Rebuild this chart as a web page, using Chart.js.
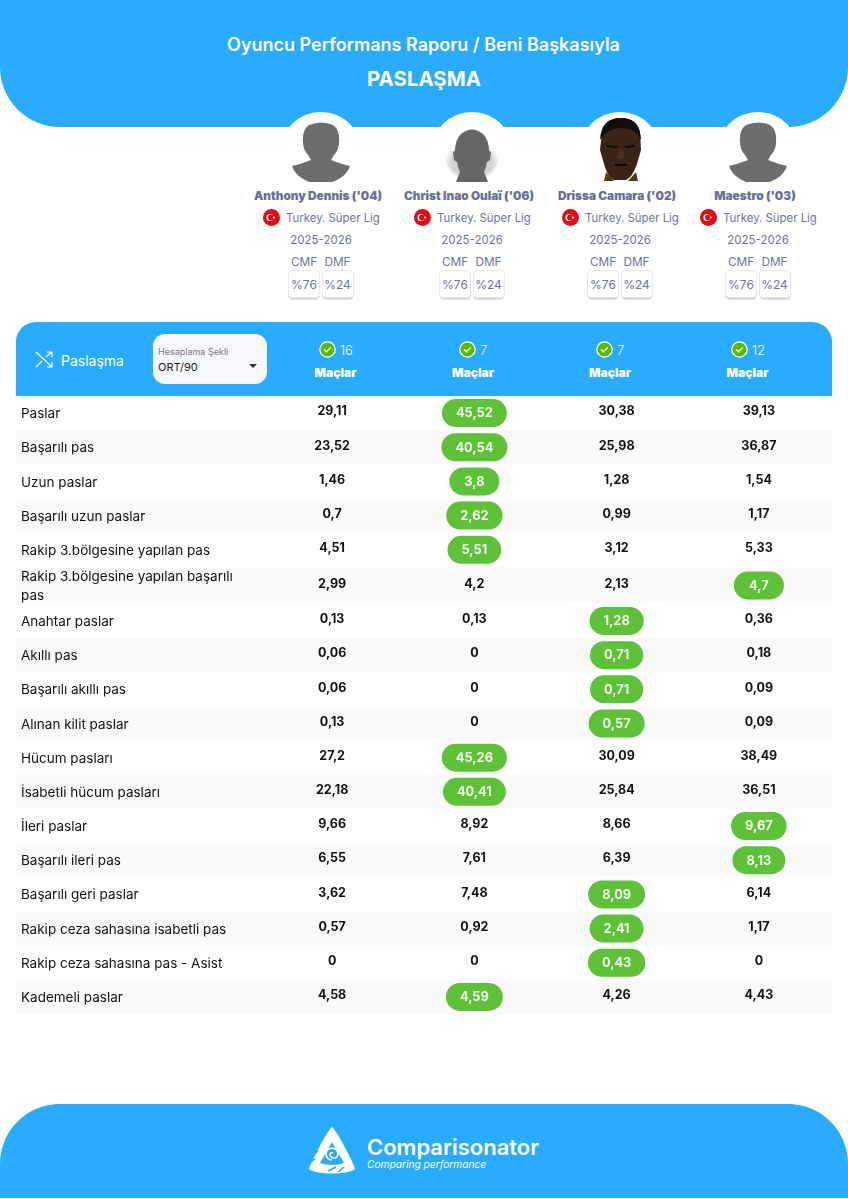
<!DOCTYPE html>
<html lang="tr">
<head>
<meta charset="utf-8">
<title>Paslaşma</title>
<script src="https://cdn.jsdelivr.net/npm/chart.js@4"></script>
<style>
  html, body { margin: 0; padding: 0; background: #fff; }
  body { position: relative; width: 848px; height: 1199px; overflow: hidden; font-family: 'Inter', sans-serif; }
  .abs { position: absolute; white-space: nowrap; }
  .ctr { transform: translate(-50%, -50%); }
  .mid { transform: translateY(-50%); }
  .top-panel { position: absolute; left: 0; top: 0; width: 848px; height: 127px; background: #29abff; border-radius: 0 0 60px 60px; }
  .foot-panel { position: absolute; left: 0; top: 1104px; width: 848px; height: 94px; background: #29abff; border-radius: 60px 60px 0 0; }
  .bubble { position: absolute; width: 82px; height: 82px; border-radius: 50%; background: #fff; top: 112px; transform: translateX(-50%); }
  .band { position: absolute; left: 16px; top: 322px; width: 816px; height: 74px; background: #29abff; border-radius: 20px 20px 0 0; }
  .select { position: absolute; left: 153px; top: 334px; width: 114px; height: 50px; background: #f7f8fc; border-radius: 12px; }
  .card { position: absolute; top: 270px; width: 32px; height: 30px; background: #fff; border: 1px solid #e8e8ee; border-bottom: 3px solid #dcdce2; border-radius: 5px; box-sizing: border-box; font-size: 12px; color: #6f7394; text-align: center; line-height: 28px; }
  #chart { position: absolute; left: 0; top: 396px; }
</style>
</head>
<body>
<div class="top-panel"></div>
<div class="foot-panel"></div>
<div class="band"></div>
<div class="select"></div>
<div class="abs ctr" style="left:423.5px;top:44px;color:#fff;font-size:18px;font-weight:600">Oyuncu Performans Raporu / Beni Başkasıyla</div>
<div class="abs ctr" style="left:424px;top:78px;color:#fff;font-size:20.4px;font-weight:700">PASLAŞMA</div>

<svg class="abs" style="left:35px;top:350px" width="19" height="19" viewBox="0 0 19 19" fill="none" stroke="#fff" stroke-width="1.2">
  <path d="M1 2 L17 17 M17 17 L17 12 M17 17 L12 17 M1 17 L7 11 M11 7 L17 2 M17 2 L12 2 M17 2 L17 7"/>
</svg>
<div class="abs mid" style="left:61px;top:360px;color:#fff;font-size:14px">Paslaşma</div>
<div class="abs mid" style="left:158px;top:351px;color:#777;font-size:9px">Hesaplama Şekli</div>
<div class="abs mid" style="left:158px;top:367px;color:#222;font-size:11px">ORT/90</div>
<svg class="abs" style="left:249px;top:364px" width="9" height="5"><path d="M0 0 L8 0 L4 4 Z" fill="#333"/></svg>

<canvas id="chart" width="848" height="618"></canvas>

<div class="abs" style="left:367px;top:1134px;color:#fff;font-size:22px;font-weight:600;line-height:26px">Comparisonator</div>
<div class="abs" style="left:367px;top:1157px;color:#fff;font-size:10.2px;font-style:italic;line-height:14px">Comparing performance</div>
<svg class="abs" style="left:308px;top:1126px" width="48" height="49" viewBox="0 0 48 49">
  <path d="M24 1 C28 3 46 38 47 43 C40 49 8 49 1 43 C2 38 20 3 24 1 Z" fill="#fff"/>
  <path d="M24 16 L36 37 Q24 41 12 37 Z" fill="#29abff"/>
  <path d="M24 34 A6 6 0 1 1 30 28 A4 4 0 1 1 22 28 A2 2 0 0 1 25 27" fill="none" stroke="#fff" stroke-width="1.6"/>
  <path d="M31 7 L37 14 M36 15 L41 17 M40 22 L46 26 M8 20 L13 16 M4 29 L10 25 M2 36 L7 33 M20 45 L28 41 M30 46 L36 41" stroke="#29abff" stroke-width="1.6"/>
</svg>

<script>
const playerNames = ["Anthony Dennis ('04)", "Christ Inao Oulaï ('06)", "Drissa Camara ('02)", "Maestro ('03)"];
const leagueName = 'Turkey. Süper Lig';
const seasonName = '2025-2026';
const positionNames = ['CMF', 'DMF'];
const positionShares = ['%76', '%24'];
const matchCounts = [16, 7, 7, 12];

const rowLabels = [
  'Paslar', 'Başarılı pas', 'Uzun paslar', 'Başarılı uzun paslar',
  'Rakip 3.bölgesine yapılan pas', 'Rakip 3.bölgesine yapılan başarılı pas',
  'Anahtar paslar', 'Akıllı pas', 'Başarılı akıllı pas', 'Alınan kilit paslar',
  'Hücum pasları', 'İsabetli hücum pasları', 'İleri paslar', 'Başarılı ileri pas',
  'Başarılı geri paslar', 'Rakip ceza sahasına isabetli pas',
  'Rakip ceza sahasına pas - Asist', 'Kademeli paslar'
];
const anthonyValues = [29.11, 23.52, 1.46, 0.7, 4.51, 2.99, 0.13, 0.06, 0.06, 0.13, 27.2, 22.18, 9.66, 6.55, 3.62, 0.57, 0, 4.58];
const christValues = [45.52, 40.54, 3.8, 2.62, 5.51, 4.2, 0.13, 0, 0, 0, 45.26, 40.41, 8.92, 7.61, 7.48, 0.92, 0, 4.59];
const drissaValues = [30.38, 25.98, 1.28, 0.99, 3.12, 2.13, 1.28, 0.71, 0.71, 0.57, 30.09, 25.84, 8.66, 6.39, 8.09, 2.41, 0.43, 4.26];
const maestroValues = [39.13, 36.87, 1.54, 1.17, 5.33, 4.7, 0.36, 0.18, 0.09, 0.09, 38.49, 36.51, 9.67, 8.13, 6.14, 1.17, 0, 4.43];
const playerValues = [anthonyValues, christValues, drissaValues, maestroValues];

// ===== HEADER COLUMNS =====
const columnCenters = [321, 472, 620, 758];
const matchCenters = [335.5, 473, 610, 747.5];
const checkLefts = [319, 459, 596, 731];
const countLefts = [340, 480, 617, 752];
const body = document.body;

function addHtml(html) {
  body.insertAdjacentHTML('beforeend', html);
}

function text(x, y, str, style) {
  addHtml(`<div class="abs ctr" style="left:${x}px;top:${y}px;${style}">${str}</div>`);
}

const grayHead = `<path d="M18 3 Q30 -2 42 3 Q49 8 48 20 Q48 28 43 33 L40 38 Q50 42 59 44 A30 24 0 0 1 1 44 Q10 42 20 38 L17 33 Q12 28 12 20 Q11 8 18 3 Z" fill="#6d6d6d"/>`;
const longHead = `<defs><radialGradient id="halo"><stop offset="72%" stop-color="#aaa"/><stop offset="100%" stop-color="#fff"/></radialGradient></defs>
  <path d="M2 30 A28 30 0 0 0 58 30 L44 20 L16 20 Z" fill="url(#halo)" opacity=".55"/>
  <path d="M19 12 Q30 3 41 12 Q47 18 47 29 L49 30 L48 38 L45 40 Q44 46 42 50 L46 60 L14 60 L18 50 Q16 46 15 40 L12 38 L11 30 L13 29 Q13 18 19 12 Z" fill="#666"/>`;
const faceHead = `<path d="M12 10 Q15 -4 31 -4 Q47 -4 50 10 L51 28 L47 42 Q42 56 36 58 L24 58 Q18 56 14 42 L10 28 Z" fill="#3a2417"/>
  <path d="M10 18 Q11 -4 31 -4 Q50 -4 51 18 Q45 6 31 6 Q17 6 10 18 Z" fill="#130d0b"/>
  <path d="M17 24 L27 25 M35 25 L45 24 M25 43 L37 43" stroke="#0d0806" stroke-width="2"/>
  <path d="M29 27 L27 37 L35 37 L33 27 Z" fill="#4a2f1f"/>
  <path d="M16 50 L24 59 L14 59 Z M46 50 L38 59 L48 59 Z" fill="#4b3d18"/>`;
const avatars = [grayHead, longHead, faceHead, grayHead];

playerNames.forEach((name, i) => {
  const cx = columnCenters[i];
  addHtml(`<div class="bubble" style="left:${cx}px"></div>`);
  addHtml(`<svg class="abs" style="left:${cx - 30}px;top:118px" width="60" height="64" viewBox="0 -4 60 64">${avatars[i]}</svg>`);
  text(cx - 3, 195.5, name, 'color:#6b6f95;font-size:11.8px;font-weight:900');
  addHtml(`<svg class="abs" style="left:${cx - 58}px;top:209px" width="17" height="17" viewBox="0 0 17 17">
    <circle cx="8.5" cy="8.5" r="8.5" fill="#e30a17"/><circle cx="7" cy="8.5" r="3.6" fill="#fff"/><circle cx="8" cy="8.5" r="2.9" fill="#e30a17"/><circle cx="11" cy="8.5" r="1.1" fill="#fff"/></svg>`);
  addHtml(`<div class="abs mid" style="left:${cx - 35}px;top:217.5px;color:#6f7394;font-size:11.4px">${leagueName}</div>`);
  text(cx, 240, seasonName, 'color:#6f7394;font-size:11.5px');
  positionNames.forEach((pos, j) => {
    const left = cx - 33 + j * 33.5;
    text(left + 16, 261.5, pos, 'color:#6f7394;font-size:11.8px');
    addHtml(`<div class="card" style="left:${left}px">${positionShares[j]}</div>`);
  });
  addHtml(`<svg class="abs" style="left:${checkLefts[i]}px;top:341px" width="17" height="17" viewBox="0 0 16 16">
    <circle cx="8" cy="8" r="7.2" fill="#5cb800" stroke="#fff" stroke-width="1.2"/><path d="M4.8 8 L7 10.2 L11.2 6" fill="none" stroke="#fff" stroke-width="1.3"/></svg>`);
  addHtml(`<div class="abs mid" style="left:${countLefts[i]}px;top:349.5px;color:#fff;font-size:13px;font-weight:300">${matchCounts[i]}</div>`);
  text(matchCenters[i], 372, 'Maçlar', 'color:#fff;font-size:12px;font-weight:900');
});

// ===== TABLE BODY =====
const FONT = "'Inter', sans-serif";
const TALL_ROW = 5;
const TALL_EXTRA = 2.8;

function rowCenter(scale, v) {
  const rowH = (scale.height - TALL_EXTRA) / rowLabels.length;
  const shift = v === TALL_ROW ? TALL_EXTRA / 2 : v > TALL_ROW ? TALL_EXTRA : 0;
  return scale.top + (v + 0.5) * rowH + shift;
}

// category axis whose wrapped row is a little taller than the others
class RowScale extends Chart.CategoryScale {
  static id = 'rows';
  static defaults = Chart.CategoryScale.defaults;
  getPixelForValue(value) {
    const v = typeof value === 'number' ? value : this.parse(value);
    return rowCenter(this, v);
  }
}
Chart.register(RowScale);

function wrapLabel(label) {
  if (label.length <= 32) return label;
  const cut = label.lastIndexOf(' ');
  return [label.slice(0, cut), label.slice(cut + 1)];
}

function formatValue(v) {
  return String(v).replace('.', ',');
}

const stripePlugin = {
  id: 'stripes',
  beforeDraw(chart) {
    const { ctx, scales: { y } } = chart;
    const rowH = (y.height - TALL_EXTRA) / rowLabels.length;
    ctx.save();
    ctx.fillStyle = '#fafafa';
    rowLabels.forEach((_, i) => {
      if (i % 2 === 0) return;
      const h = i === TALL_ROW ? rowH + TALL_EXTRA : rowH;
      ctx.fillRect(16, rowCenter(y, i) - h / 2, 816, h);
    });
    ctx.restore();
  }
};

const cellPlugin = {
  id: 'cells',
  afterDatasetsDraw(chart) {
    const { ctx } = chart;
    ctx.save();
    ctx.textAlign = 'center';
    ctx.textBaseline = 'middle';
    chart.data.datasets.forEach((ds, d) => {
      chart.getDatasetMeta(d).data.forEach((pt, i) => {
        const value = ds.values[i];
        const label = formatValue(value);
        const best = value === Math.max(...playerValues.map(p => p[i]));
        if (best && value > 0) {
          ctx.font = `700 12.8px ${FONT}`;
          const w = Math.max(50, ctx.measureText(label).width + 28);
          ctx.fillStyle = '#5fc137';
          ctx.beginPath();
          ctx.roundRect(pt.x - w / 2, pt.y - 14, w, 28, 14);
          ctx.fill();
          ctx.fillStyle = '#f2fbee';
          ctx.fillText(label, pt.x, pt.y + 0.5);
        } else {
          ctx.font = `700 12.5px ${FONT}`;
          ctx.fillStyle = '#111';
          ctx.fillText(label, pt.x, pt.y - 1.5);
        }
      });
    });
    ctx.restore();
  }
};

new Chart(document.getElementById('chart'), {
  type: 'scatter',
  data: {
    xLabels: playerNames,
    yLabels: rowLabels,
    datasets: playerNames.map((name, p) => ({
      label: name,
      values: playerValues[p],
      data: rowLabels.map(row => ({ x: name, y: row })),
      pointRadius: 0
    }))
  },
  plugins: [stripePlugin, cellPlugin],
  options: {
    responsive: false,
    animation: false,
    layout: { padding: { left: 21, right: 18, top: 0, bottom: 0 } },
    plugins: { legend: { display: false }, tooltip: { enabled: false } },
    scales: {
      x: { type: 'category', offset: true, display: false },
      y: {
        type: 'rows',
        offset: true,
        grid: { display: false },
        border: { display: false },
        afterFit: s => { s.width = 240; s.paddingTop = 0; s.paddingBottom = 0; },
        ticks: {
          autoSkip: false,
          padding: 0,
          labelOffset: 1,
          crossAlign: 'far',
          color: '#111',
          font: { family: FONT, size: 13.5, lineHeight: 1.4 },
          callback(v) { return wrapLabel(rowLabels[v]); }
        }
      }
    }
  }
});
</script>
</body>
</html>
